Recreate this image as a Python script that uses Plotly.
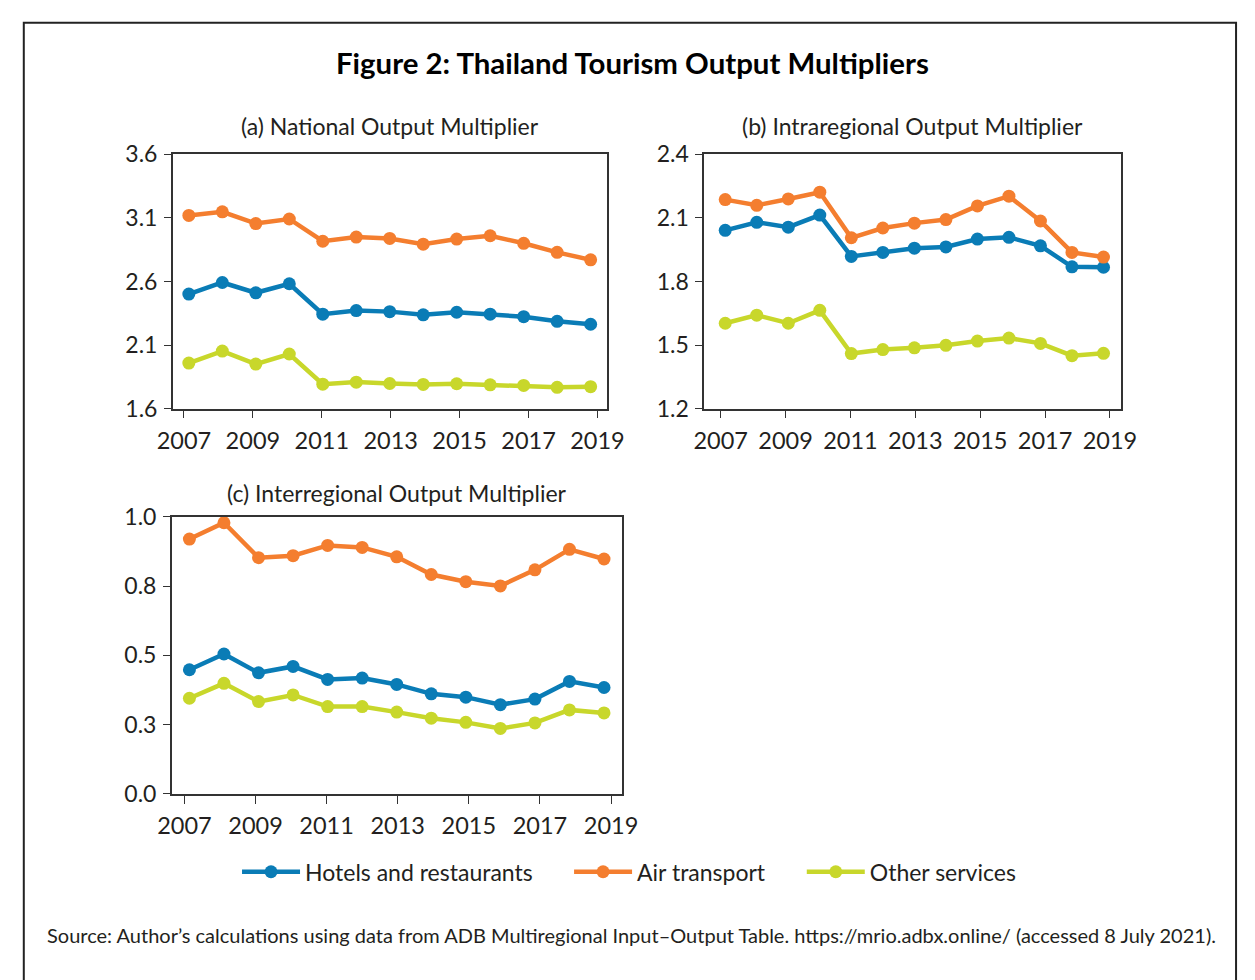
import plotly.graph_objects as go

W, H = 1255, 980

years = list(range(2007, 2020))
tick_years = [2007, 2009, 2011, 2013, 2015, 2017, 2019]
tick_labels = [str(y) for y in tick_years]

series_names = ["Hotels and restaurants", "Air transport", "Other services"]
colors = ["#0A7CB6", "#F47E2F", "#C8D72B"]

# (a) National Output Multiplier
nat_hotels = [2.501, 2.592, 2.511, 2.582, 2.343, 2.371, 2.363, 2.338, 2.358, 2.343, 2.323, 2.287, 2.264]
nat_air = [3.119, 3.147, 3.055, 3.091, 2.916, 2.949, 2.938, 2.893, 2.933, 2.959, 2.900, 2.829, 2.770]
nat_other = [1.959, 2.053, 1.951, 2.030, 1.793, 1.809, 1.798, 1.791, 1.796, 1.788, 1.783, 1.768, 1.773]

# (b) Intraregional Output Multiplier
intra_hotels = [2.041, 2.079, 2.056, 2.113, 1.918, 1.937, 1.957, 1.963, 2.000, 2.008, 1.968, 1.869, 1.867]
intra_air = [2.186, 2.159, 2.189, 2.221, 2.006, 2.052, 2.075, 2.092, 2.156, 2.202, 2.085, 1.937, 1.915]
intra_other = [1.603, 1.641, 1.603, 1.664, 1.460, 1.479, 1.487, 1.499, 1.519, 1.533, 1.508, 1.450, 1.461]

# (c) Interregional Output Multiplier
inter_hotels = [0.448, 0.505, 0.437, 0.460, 0.413, 0.418, 0.395, 0.361, 0.349, 0.322, 0.342, 0.406, 0.384]
inter_air = [0.920, 0.979, 0.853, 0.860, 0.897, 0.890, 0.856, 0.792, 0.766, 0.751, 0.809, 0.883, 0.848]
inter_other = [0.345, 0.399, 0.333, 0.357, 0.315, 0.315, 0.295, 0.273, 0.258, 0.236, 0.256, 0.303, 0.292]

yticks_a = [1.6, 2.1, 2.6, 3.1, 3.6]
yticks_b = [1.2, 1.5, 1.8, 2.1, 2.4]
yticks_c = [0.0, 0.25, 0.5, 0.75, 1.0]
yticklabels_c = ["0.0", "0.3", "0.5", "0.8", "1.0"]

panels = [
    dict(title="(a) National Output Multiplier", data=[nat_hotels, nat_air, nat_other],
         xdom=(161, 607), ydom=(143.3, 405.3), xr=(2006.52, 2019.49), yr=(1.6, 3.6),
         yt=yticks_a, ytt=[f"{v:.1f}" for v in yticks_a], ty=114),
    dict(title="(b) Intraregional Output Multiplier", data=[intra_hotels, intra_air, intra_other],
         xdom=(706.7, 1135), ydom=(143.3, 405.3), xr=(2006.33, 2019.56), yr=(1.2, 2.4),
         yt=yticks_b, ytt=[f"{v:.1f}" for v in yticks_b], ty=114),
    dict(title="(c) Interregional Output Multiplier", data=[inter_hotels, inter_air, inter_other],
         xdom=(160, 622), ydom=(516.7, 801.7), xr=(2006.49, 2019.51), yr=(0.0, 1.0),
         yt=yticks_c, ytt=yticklabels_c, ty=492),
]

FONT = "Lato"
TXT = "#231F20"


def tick_pos(y):
    # the original's tick marks are spaced slightly wider than the data points
    return 2006.855 + (y - 2007) * 1.029


fig = go.Figure()
legend_x = [232, 573, 812]
layout = dict(
    width=W, height=H, autosize=False,
    margin=dict(l=0, r=0, t=0, b=0, pad=0),
    paper_bgcolor="white", plot_bgcolor="white",
    font=dict(family=FONT, color=TXT, size=22),
    showlegend=True,
)
for k, lx in enumerate(legend_x):
    key = "legend" if k == 0 else f"legend{k+1}"
    layout[key] = dict(orientation="h", x=(lx - 5) / W, xanchor="left", y=1 - 882 / H, yanchor="middle",
                       font=dict(size=23, family=FONT, color=TXT), itemwidth=58,
                       bgcolor="rgba(0,0,0,0)", borderwidth=0)
annotations = []

for i, p in enumerate(panels):
    xa = "x" if i == 0 else f"x{i+1}"
    ya = "y" if i == 0 else f"y{i+1}"
    for j, (name, col) in enumerate(zip(series_names, colors)):
        fig.add_trace(go.Scatter(
            x=years, y=p["data"][j], mode="lines+markers", name=name,
            line=dict(color=col, width=4.5), marker=dict(color=col, size=13),
            xaxis=xa, yaxis=ya, showlegend=(i == 0),
            legend="legend" if j == 0 else f"legend{j+1}",
        ))
    xd = [p["xdom"][0] / W, p["xdom"][1] / W]
    yd = [1 - p["ydom"][1] / H, 1 - p["ydom"][0] / H]
    xkey = "xaxis" if i == 0 else f"xaxis{i+1}"
    ykey = "yaxis" if i == 0 else f"yaxis{i+1}"
    layout[xkey] = dict(
        domain=xd, range=list(p["xr"]), anchor=ya,
        tickvals=[tick_pos(y) for y in tick_years], ticktext=tick_labels,
        ticks="outside", ticklen=8, tickwidth=1.2, tickcolor="#333333",
        showline=True, linecolor="#333333", linewidth=1.5, mirror=True,
        showgrid=False, zeroline=False, ticklabelstandoff=2,
        tickfont=dict(size=23.5, family=FONT, color=TXT),
    )
    layout[ykey] = dict(
        domain=yd, range=list(p["yr"]), anchor=xa,
        tickvals=p["yt"], ticktext=p["ytt"],
        ticks="outside", ticklen=7, tickwidth=1.2, tickcolor="#333333",
        showline=True, linecolor="#333333", linewidth=1.5, mirror=True,
        showgrid=False, zeroline=False, ticklabelstandoff=2,
        tickfont=dict(size=23, family=FONT, color=TXT),
    )
    annotations.append(dict(
        text=p["title"], xref="paper", yref="paper",
        x=(xd[0] + xd[1]) / 2, y=1 - p["ty"] / H,
        xanchor="center", yanchor="middle", showarrow=False,
        font=dict(size=23, family=FONT, color=TXT),
    ))

annotations.append(dict(
    text="<b>Figure 2: Thailand Tourism Output Multipliers</b>", xref="paper", yref="paper",
    x=633 / W, y=1 - 49 / H, xanchor="center", yanchor="middle", showarrow=False,
    font=dict(size=29.4, family=FONT, color="#000000"),
))
annotations.append(dict(
    text="Source: Author\u2019s calculations using data from ADB Multiregional Input\u2013Output Table. https://mrio.adbx.online/ (accessed 8 July 2021).",
    xref="paper", yref="paper", x=30 / W, y=1 - 947 / H, xanchor="left", yanchor="middle",
    showarrow=False, font=dict(size=20, family=FONT, color=TXT),
))
layout["annotations"] = annotations
layout["shapes"] = [dict(
    type="rect", xref="paper", yref="paper",
    x0=8 / W, x1=1253 / W, y0=-0.05, y1=1 - 8 / H,
    line=dict(color="#222222", width=2), fillcolor="rgba(0,0,0,0)", layer="below",
)]

fig.update_layout(**layout)
fig.write_html(
    "out.html",
    config={"displayModeBar": False, "responsive": False},
    post_script="document.body.style.margin='0';document.body.style.padding='0';document.body.style.overflow='hidden';",
)
